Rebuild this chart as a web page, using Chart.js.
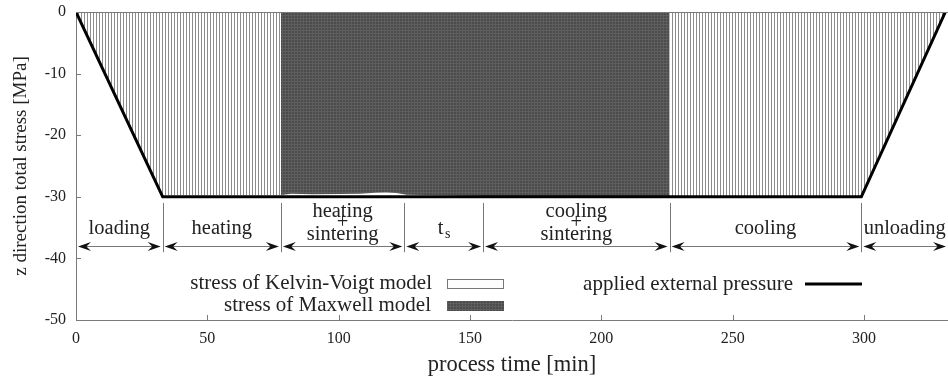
<!DOCTYPE html>
<html>
<head>
<meta charset="utf-8">
<script src="https://cdn.jsdelivr.net/npm/chart.js@4.4.0/dist/chart.umd.min.js"></script>
<style>
  html, body { margin: 0; padding: 0; background: #fff; }
  canvas { display: block; }
</style>
</head>
<body>
<canvas id="c" width="948" height="378"></canvas>
<script>
/* global Chart */

const FONT = "Liberation Serif";

// applied external pressure
const pressTime = [0, 33, 299, 331];
const pressValue = [0, -30, -30, 0];

// stress of Kelvin-Voigt model (null = gap between the two parts)
const kvTime = [0, 33, 55, 78, 150, 226, 260, 299, 331];
const kvStress = [0, -29.7, -29.7, -29.7, null, -29.95, -29.95, -29.9, 0];

// stress of Maxwell model
const mxTime = [78, 82, 90, 100, 108, 114, 118, 122, 126, 140, 160, 226];
const mxStress = [-29.7, -29.5, -29.6, -29.55, -29.5, -29.35, -29.3, -29.4, -29.65, -29.75, -29.9, -29.95];

// process phases
const phaseBounds = [0, 33, 78, 125, 155, 226, 299, 332];
const phaseLabels = [
  ["loading"],
  ["heating"],
  ["heating", "+", "sintering"],
  ["t_s"],
  ["cooling", "+", "sintering"],
  ["cooling"],
  ["unloading"],
];

const xTicks = { min: 0, max: 332, step: 50 };
const yTicks = { min: -50, max: 0, step: 10 };

function toPoints(xs, ys) {
  return xs.map((x, i) => ({ x: x, y: ys[i] }));
}

function makeHatch() {
  const c = document.createElement("canvas");
  c.width = 3;
  c.height = 1;
  const g = c.getContext("2d");
  g.fillStyle = "#ffffff";
  g.fillRect(0, 0, 3, 1);
  g.fillStyle = "#8c8c8c";
  g.fillRect(0, 0, 1, 1);
  return g.createPattern(c, "repeat");
}

function makeDark() {
  const c = document.createElement("canvas");
  c.width = 3;
  c.height = 3;
  const g = c.getContext("2d");
  g.fillStyle = "#4b4b4b";
  g.fillRect(0, 0, 3, 3);
  g.fillStyle = "#5e5e5e";
  g.fillRect(0, 0, 1, 3);
  g.fillRect(0, 0, 3, 1);
  return g.createPattern(c, "repeat");
}

const hatch = makeHatch();
const dark = makeDark();

function line(ctx, x1, y1, x2, y2) {
  ctx.beginPath();
  ctx.moveTo(x1, y1);
  ctx.lineTo(x2, y2);
  ctx.stroke();
}

function arrowHead(ctx, tx, ty, dir) {
  const L = 13, W = 4.5;
  ctx.beginPath();
  ctx.moveTo(tx, ty);
  ctx.lineTo(tx - dir * L, ty - W);
  ctx.lineTo(tx - dir * L * 0.65, ty);
  ctx.lineTo(tx - dir * L, ty + W);
  ctx.closePath();
  ctx.fill();
}

// frame + inward ticks
const framePlugin = {
  id: "frame",
  afterDatasetsDraw(chart) {
    const { ctx, chartArea: a, scales } = chart;
    ctx.save();
    ctx.strokeStyle = "#7a7a7a";
    ctx.lineWidth = 1;
    line(ctx, a.left, a.top + 0.5, a.right, a.top + 0.5);
    for (const t of scales.x.ticks) {
      const px = Math.round(scales.x.getPixelForValue(t.value)) + 0.5;
      line(ctx, px, a.bottom, px, a.bottom - 5);
    }
    for (const t of scales.y.ticks) {
      const py = Math.round(scales.y.getPixelForValue(t.value)) + 0.5;
      line(ctx, a.left, py, a.left + 5, py);
    }
    ctx.restore();
  },
};

// phase arrows and labels
const phasePlugin = {
  id: "phases",
  afterDraw(chart) {
    const { ctx, scales } = chart;
    const x = scales.x, y = scales.y;
    const yArrow = Math.round(y.getPixelForValue(-38.0)) + 0.5;
    const ySepTop = y.getPixelForValue(-31.0);
    const ySepBot = y.getPixelForValue(-39.0);
    const f = "20.5px '" + FONT + "'";
    ctx.save();
    ctx.strokeStyle = "#777";
    ctx.lineWidth = 1;
    for (let i = 1; i < phaseBounds.length - 1; i++) {
      const px = Math.round(x.getPixelForValue(phaseBounds[i])) + 0.5;
      line(ctx, px, ySepTop, px, ySepBot);
    }
    ctx.font = f;
    ctx.textAlign = "center";
    ctx.textBaseline = "middle";
    for (let i = 0; i < phaseLabels.length; i++) {
      const x1 = x.getPixelForValue(phaseBounds[i]) + 2;
      const x2 = x.getPixelForValue(phaseBounds[i + 1]) - 2;
      ctx.strokeStyle = "#777";
      line(ctx, x1 + 6, yArrow, x2 - 6, yArrow);
      ctx.fillStyle = "#111";
      arrowHead(ctx, x1, yArrow, -1);
      arrowHead(ctx, x2, yArrow, 1);
      const cx = (x1 + x2) / 2;
      const lab = phaseLabels[i];
      ctx.fillStyle = "#222";
      if (lab.length === 1 && lab[0] === "t_s") {
        const yy = y.getPixelForValue(-35.2);
        ctx.fillText("t", cx - 3, yy);
        ctx.font = "14px '" + FONT + "'";
        ctx.fillText("s", cx + 4, yy + 5);
        ctx.font = f;
      } else if (lab.length === 1) {
        ctx.fillText(lab[0], cx, y.getPixelForValue(-35.2));
      } else {
        ctx.fillText(lab[0], cx, y.getPixelForValue(-32.4));
        ctx.fillText(lab[1], cx, y.getPixelForValue(-34.2));
        ctx.fillText(lab[2], cx, y.getPixelForValue(-36.2));
      }
    }
    ctx.restore();
  },
};

// gnuplot-style key inside the plot
const keyPlugin = {
  id: "key",
  afterDraw(chart) {
    const { ctx } = chart;
    const ds = chart.data.datasets;
    ctx.save();
    ctx.font = "21px '" + FONT + "'";
    ctx.fillStyle = "#222";
    ctx.textAlign = "right";
    ctx.textBaseline = "middle";
    const kv = ds[1], mx = ds[2], pr = ds[0];
    ctx.fillText(kv.label, 432, 283);
    ctx.fillText(mx.label, 431, 305);
    ctx.fillText(pr.label, 793, 284);
    // KV box
    ctx.fillStyle = "#fdfdfd";
    ctx.fillRect(447, 279, 56, 9);
    ctx.strokeStyle = "#777";
    ctx.lineWidth = 1;
    ctx.strokeRect(447.5, 279.5, 56, 9);
    // Maxwell box
    ctx.fillStyle = mx.backgroundColor;
    ctx.fillRect(447, 301, 57, 10);
    // pressure line
    ctx.strokeStyle = pr.borderColor;
    ctx.lineWidth = pr.borderWidth;
    line(ctx, 805, 284, 862, 284);
    ctx.restore();
  },
};

const tickFont = { family: FONT, size: 16 };

new Chart(document.getElementById("c"), {
  type: "line",
  data: {
    datasets: [
      {
        label: "applied external pressure",
        data: toPoints(pressTime, pressValue),
        borderColor: "#000",
        borderWidth: 3,
        pointRadius: 0,
        fill: false,
        order: 0,
      },
      {
        label: "stress of Kelvin-Voigt model",
        data: toPoints(kvTime, kvStress),
        borderWidth: 0,
        borderColor: "rgba(0,0,0,0)",
        backgroundColor: hatch,
        pointRadius: 0,
        spanGaps: false,
        fill: { value: 0 },
        order: 2,
      },
      {
        label: "stress of Maxwell model",
        data: toPoints(mxTime, mxStress),
        borderWidth: 0,
        borderColor: "rgba(0,0,0,0)",
        backgroundColor: dark,
        pointRadius: 0,
        fill: { value: 0 },
        order: 1,
      },
    ],
  },
  options: {
    responsive: false,
    animation: false,
    layout: { padding: { top: 12, right: 0, bottom: 0, left: 0 } },
    plugins: { legend: { display: false }, tooltip: { enabled: false } },
    scales: {
      x: {
        type: "linear",
        min: xTicks.min,
        max: xTicks.max,
        afterFit(s) { s.height = 58; s.paddingLeft = 0; s.paddingRight = 0; },
        grid: { display: false, drawTicks: false },
        border: { display: true, color: "#7a7a7a", width: 1 },
        ticks: { stepSize: xTicks.step, includeBounds: false, padding: 9, color: "#222", font: tickFont, maxRotation: 0 },
        title: { display: true, text: "process time [min]", color: "#222", font: { family: FONT, size: 22.5 }, padding: { top: 0, bottom: -1 } },
      },
      y: {
        min: yTicks.min,
        max: yTicks.max,
        afterFit(s) { s.width = 76; s.paddingTop = 0; s.paddingBottom = 0; },
        grid: { display: false, drawTicks: false },
        border: { display: true, color: "#7a7a7a", width: 1 },
        ticks: { stepSize: yTicks.step, padding: 10, color: "#222", font: tickFont },
        title: { display: true, text: "z direction total stress [MPa]", color: "#222", font: { family: FONT, size: 19 }, padding: { top: 10, bottom: 0 } },
      },
    },
  },
  plugins: [framePlugin, phasePlugin, keyPlugin],
});
</script>
</body>
</html>
